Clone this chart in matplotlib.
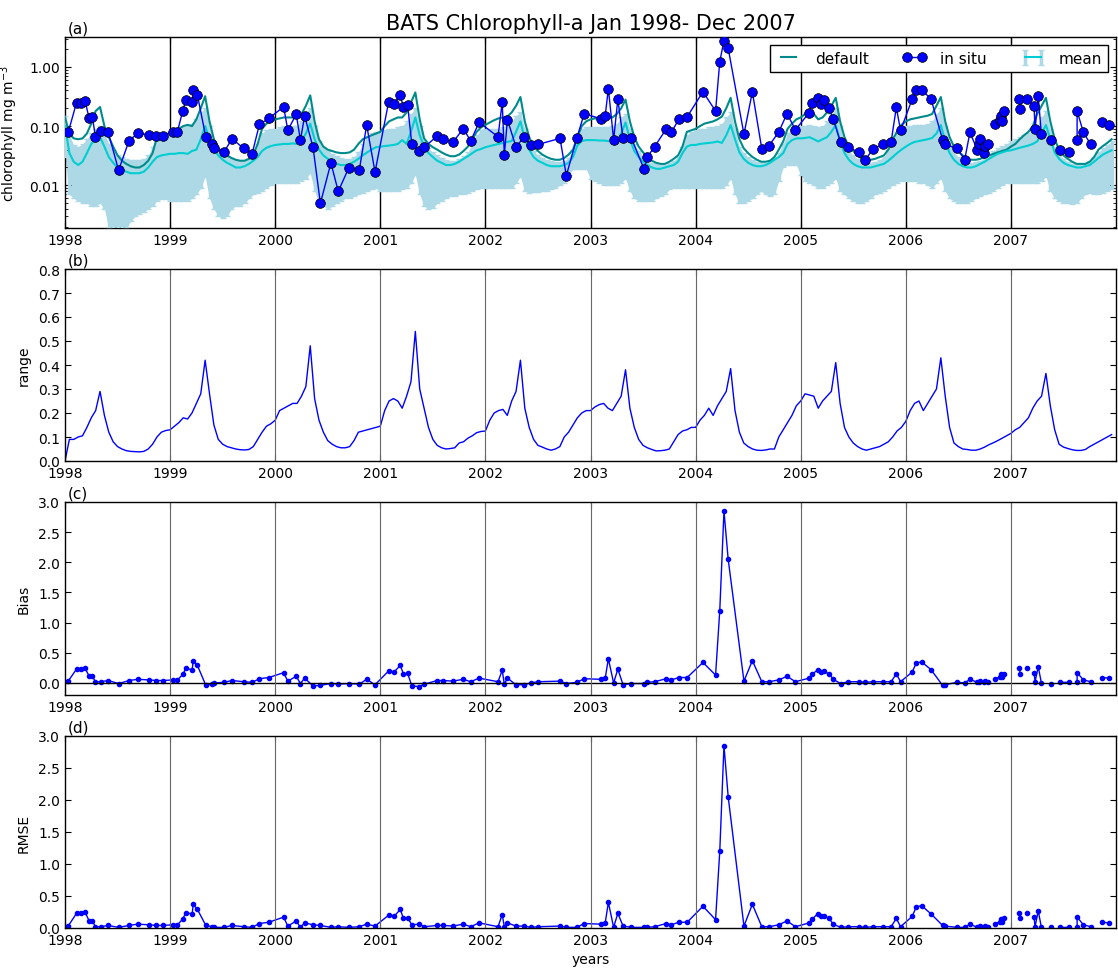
import numpy as np
import matplotlib
matplotlib.use('Agg')
import matplotlib.pyplot as plt
from matplotlib.ticker import FormatStrFormatter, MultipleLocator

years = list(range(1998, 2008))

# model output, 24 samples per year (semi-monthly)
default_chl = [
    [0.14, 0.075, 0.062, 0.06, 0.062, 0.075, 0.11, 0.18, 0.21, 0.1, 0.065, 0.045, 0.032, 0.026, 0.023, 0.021, 0.02, 0.02, 0.022, 0.026, 0.035, 0.065, 0.07, 0.072],
    [0.075, 0.08, 0.09, 0.1, 0.105, 0.1, 0.13, 0.2, 0.32, 0.12, 0.06, 0.042, 0.036, 0.032, 0.029, 0.027, 0.026, 0.026, 0.028, 0.033, 0.05, 0.09, 0.11, 0.12],
    [0.13, 0.135, 0.14, 0.14, 0.14, 0.145, 0.16, 0.22, 0.33, 0.12, 0.06, 0.045, 0.04, 0.038, 0.036, 0.035, 0.035, 0.036, 0.04, 0.05, 0.06, 0.065, 0.07, 0.075],
    [0.08, 0.1, 0.12, 0.13, 0.14, 0.14, 0.17, 0.25, 0.37, 0.13, 0.062, 0.05, 0.044, 0.04, 0.036, 0.033, 0.031, 0.031, 0.033, 0.038, 0.045, 0.06, 0.08, 0.095],
    [0.105, 0.115, 0.126, 0.135, 0.14, 0.145, 0.17, 0.22, 0.31, 0.12, 0.065, 0.045, 0.038, 0.033, 0.03, 0.028, 0.027, 0.027, 0.029, 0.033, 0.04, 0.065, 0.1, 0.12],
    [0.13, 0.135, 0.135, 0.135, 0.135, 0.14, 0.16, 0.2, 0.28, 0.12, 0.065, 0.045, 0.036, 0.03, 0.026, 0.024, 0.023, 0.023, 0.025, 0.028, 0.032, 0.045, 0.08, 0.085],
    [0.09, 0.1, 0.11, 0.115, 0.12, 0.13, 0.145, 0.2, 0.3, 0.12, 0.06, 0.042, 0.035, 0.03, 0.027, 0.025, 0.025, 0.026, 0.03, 0.04, 0.055, 0.09, 0.11, 0.13],
    [0.14, 0.16, 0.175, 0.16, 0.13, 0.14, 0.17, 0.22, 0.3, 0.12, 0.065, 0.045, 0.038, 0.032, 0.028, 0.026, 0.027, 0.028, 0.03, 0.032, 0.04, 0.06, 0.08, 0.105],
    [0.12, 0.13, 0.135, 0.14, 0.145, 0.15, 0.16, 0.22, 0.31, 0.12, 0.065, 0.045, 0.037, 0.032, 0.028, 0.027, 0.027, 0.028, 0.03, 0.032, 0.034, 0.036, 0.038, 0.04],
    [0.045, 0.05, 0.06, 0.07, 0.08, 0.1, 0.16, 0.22, 0.3, 0.12, 0.06, 0.04, 0.032, 0.028, 0.025, 0.023, 0.023, 0.023, 0.025, 0.03, 0.04, 0.046, 0.052, 0.06],
]
mean_chl = [
    [0.1, 0.035, 0.025, 0.022, 0.025, 0.035, 0.05, 0.06, 0.065, 0.045, 0.03, 0.024, 0.02, 0.018, 0.017, 0.016, 0.016, 0.016, 0.017, 0.02, 0.025, 0.03, 0.032, 0.033],
    [0.034, 0.034, 0.035, 0.035, 0.034, 0.038, 0.04, 0.06, 0.1, 0.06, 0.04, 0.032, 0.027, 0.024, 0.022, 0.02, 0.02, 0.021, 0.023, 0.026, 0.03, 0.038, 0.043, 0.046],
    [0.048, 0.049, 0.05, 0.05, 0.051, 0.05, 0.055, 0.075, 0.11, 0.06, 0.04, 0.032, 0.028, 0.025, 0.023, 0.022, 0.022, 0.023, 0.025, 0.028, 0.032, 0.036, 0.04, 0.044],
    [0.045, 0.046, 0.047, 0.048, 0.05, 0.058, 0.05, 0.08, 0.14, 0.07, 0.045, 0.035, 0.03, 0.026, 0.024, 0.022, 0.022, 0.023, 0.025, 0.028, 0.031, 0.035, 0.039, 0.041],
    [0.044, 0.046, 0.048, 0.05, 0.052, 0.054, 0.056, 0.08, 0.12, 0.06, 0.04, 0.03, 0.026, 0.024, 0.022, 0.021, 0.021, 0.021, 0.022, 0.024, 0.03, 0.047, 0.056, 0.058],
    [0.058, 0.058, 0.057, 0.057, 0.056, 0.055, 0.052, 0.075, 0.115, 0.06, 0.038, 0.03, 0.025, 0.022, 0.02, 0.019, 0.019, 0.02, 0.021, 0.022, 0.025, 0.035, 0.045, 0.048],
    [0.048, 0.05, 0.051, 0.052, 0.053, 0.055, 0.052, 0.07, 0.104, 0.06, 0.036, 0.028, 0.024, 0.022, 0.021, 0.021, 0.022, 0.024, 0.027, 0.03, 0.035, 0.05, 0.058, 0.062],
    [0.062, 0.063, 0.065, 0.06, 0.055, 0.06, 0.065, 0.08, 0.104, 0.055, 0.035, 0.027, 0.023, 0.021, 0.02, 0.02, 0.02, 0.021, 0.022, 0.023, 0.026, 0.03, 0.035, 0.04],
    [0.045, 0.05, 0.054, 0.056, 0.058, 0.06, 0.063, 0.075, 0.104, 0.055, 0.035, 0.027, 0.023, 0.021, 0.02, 0.02, 0.021, 0.023, 0.025, 0.028, 0.031, 0.034, 0.036, 0.038],
    [0.039, 0.041, 0.043, 0.045, 0.047, 0.05, 0.055, 0.075, 0.104, 0.06, 0.036, 0.028, 0.024, 0.022, 0.021, 0.02, 0.02, 0.021, 0.022, 0.025, 0.029, 0.033, 0.036, 0.039],
]
band_high = [
    [0.15, 0.07, 0.048, 0.045, 0.05, 0.06, 0.075, 0.09, 0.1, 0.075, 0.05, 0.04, 0.033, 0.03, 0.028, 0.027, 0.027, 0.027, 0.028, 0.032, 0.045, 0.06, 0.065, 0.07],
    [0.08, 0.085, 0.09, 0.095, 0.1, 0.11, 0.13, 0.17, 0.2, 0.1, 0.05, 0.04, 0.034, 0.031, 0.029, 0.027, 0.026, 0.026, 0.028, 0.032, 0.05, 0.075, 0.085, 0.09],
    [0.09, 0.095, 0.1, 0.1, 0.1, 0.1, 0.12, 0.17, 0.2, 0.1, 0.055, 0.045, 0.038, 0.034, 0.031, 0.029, 0.028, 0.028, 0.03, 0.036, 0.05, 0.065, 0.075, 0.08],
    [0.08, 0.085, 0.09, 0.09, 0.095, 0.1, 0.12, 0.16, 0.2, 0.1, 0.055, 0.042, 0.036, 0.032, 0.029, 0.027, 0.026, 0.026, 0.028, 0.031, 0.036, 0.05, 0.07, 0.085],
    [0.09, 0.09, 0.09, 0.09, 0.095, 0.1, 0.12, 0.15, 0.17, 0.09, 0.05, 0.038, 0.032, 0.029, 0.027, 0.026, 0.025, 0.025, 0.026, 0.029, 0.04, 0.07, 0.09, 0.095],
    [0.095, 0.095, 0.095, 0.095, 0.095, 0.1, 0.11, 0.14, 0.16, 0.09, 0.05, 0.038, 0.03, 0.026, 0.024, 0.023, 0.022, 0.022, 0.024, 0.026, 0.03, 0.045, 0.07, 0.08],
    [0.085, 0.09, 0.09, 0.095, 0.095, 0.1, 0.11, 0.14, 0.17, 0.09, 0.045, 0.035, 0.03, 0.027, 0.025, 0.024, 0.024, 0.025, 0.028, 0.035, 0.05, 0.075, 0.09, 0.095],
    [0.1, 0.1, 0.105, 0.1, 0.095, 0.1, 0.12, 0.16, 0.2, 0.1, 0.05, 0.038, 0.032, 0.028, 0.025, 0.024, 0.024, 0.025, 0.027, 0.03, 0.04, 0.06, 0.08, 0.095],
    [0.1, 0.1, 0.105, 0.105, 0.105, 0.11, 0.12, 0.16, 0.2, 0.1, 0.048, 0.036, 0.03, 0.027, 0.025, 0.024, 0.025, 0.026, 0.029, 0.033, 0.038, 0.042, 0.046, 0.05],
    [0.055, 0.06, 0.065, 0.07, 0.075, 0.085, 0.1, 0.14, 0.18, 0.09, 0.045, 0.034, 0.028, 0.025, 0.023, 0.022, 0.022, 0.023, 0.026, 0.03, 0.036, 0.042, 0.048, 0.055],
]
band_low = [
    [0.03, 0.007, 0.006, 0.0055, 0.005, 0.005, 0.0045, 0.0045, 0.005, 0.004, 0.0018, 0.0015, 0.0015, 0.0016, 0.0018, 0.0025, 0.003, 0.0033, 0.0036, 0.004, 0.0045, 0.0055, 0.0058, 0.0058],
    [0.0055, 0.0055, 0.0055, 0.0055, 0.0055, 0.006, 0.007, 0.009, 0.014, 0.006, 0.004, 0.003, 0.0028, 0.003, 0.004, 0.0045, 0.0045, 0.005, 0.006, 0.007, 0.0075, 0.008, 0.009, 0.01],
    [0.011, 0.011, 0.011, 0.011, 0.011, 0.011, 0.012, 0.013, 0.016, 0.008, 0.005, 0.0045, 0.004, 0.0045, 0.005, 0.0055, 0.006, 0.006, 0.0065, 0.007, 0.0075, 0.008, 0.0085, 0.009],
    [0.008, 0.008, 0.008, 0.008, 0.008, 0.0085, 0.009, 0.011, 0.015, 0.007, 0.0045, 0.004, 0.0042, 0.005, 0.0055, 0.006, 0.0065, 0.0065, 0.007, 0.0072, 0.0075, 0.008, 0.0085, 0.009],
    [0.009, 0.009, 0.009, 0.009, 0.009, 0.009, 0.009, 0.011, 0.014, 0.008, 0.0075, 0.0077, 0.0078, 0.008, 0.008, 0.0085, 0.009, 0.01, 0.011, 0.015, 0.019, 0.019, 0.019, 0.019],
    [0.013, 0.012, 0.011, 0.01, 0.01, 0.01, 0.01, 0.011, 0.013, 0.008, 0.006, 0.0055, 0.0055, 0.0055, 0.0055, 0.006, 0.0065, 0.007, 0.0085, 0.009, 0.009, 0.009, 0.009, 0.009],
    [0.009, 0.009, 0.009, 0.009, 0.009, 0.009, 0.009, 0.01, 0.013, 0.007, 0.005, 0.005, 0.0055, 0.006, 0.007, 0.008, 0.007, 0.0065, 0.007, 0.012, 0.02, 0.022, 0.022, 0.022],
    [0.015, 0.012, 0.011, 0.01, 0.009, 0.009, 0.01, 0.011, 0.013, 0.008, 0.007, 0.006, 0.0055, 0.005, 0.005, 0.0055, 0.006, 0.007, 0.0075, 0.008, 0.009, 0.01, 0.011, 0.012],
    [0.012, 0.012, 0.012, 0.011, 0.011, 0.01, 0.009, 0.011, 0.013, 0.008, 0.006, 0.0055, 0.005, 0.005, 0.005, 0.0055, 0.006, 0.0065, 0.007, 0.0075, 0.008, 0.009, 0.01, 0.011],
    [0.011, 0.011, 0.011, 0.011, 0.011, 0.011, 0.011, 0.012, 0.014, 0.008, 0.006, 0.0055, 0.005, 0.005, 0.0048, 0.005, 0.006, 0.007, 0.0075, 0.007, 0.007, 0.0075, 0.008, 0.0085],
]
range_chl = [
    [0.0, 0.09, 0.09, 0.1, 0.105, 0.14, 0.18, 0.21, 0.29, 0.19, 0.12, 0.08, 0.06, 0.05, 0.043, 0.04, 0.039, 0.038, 0.04, 0.05, 0.07, 0.1, 0.12, 0.127],
    [0.13, 0.145, 0.16, 0.18, 0.175, 0.2, 0.24, 0.28, 0.42, 0.28, 0.15, 0.09, 0.07, 0.06, 0.055, 0.05, 0.047, 0.046, 0.048, 0.06, 0.09, 0.12, 0.145, 0.155],
    [0.17, 0.21, 0.22, 0.23, 0.24, 0.24, 0.27, 0.31, 0.48, 0.26, 0.17, 0.12, 0.085, 0.07, 0.06, 0.055, 0.055, 0.06, 0.085, 0.12, 0.125, 0.13, 0.135, 0.14],
    [0.145, 0.21, 0.25, 0.26, 0.25, 0.22, 0.27, 0.33, 0.54, 0.3, 0.22, 0.14, 0.09, 0.065, 0.055, 0.05, 0.052, 0.055, 0.075, 0.08, 0.095, 0.105, 0.118, 0.123],
    [0.125, 0.17, 0.2, 0.21, 0.215, 0.19, 0.25, 0.29, 0.42, 0.22, 0.14, 0.09, 0.065, 0.058, 0.05, 0.045, 0.05, 0.06, 0.1, 0.12, 0.15, 0.18, 0.2, 0.21],
    [0.21, 0.225, 0.235, 0.24, 0.22, 0.21, 0.24, 0.27, 0.38, 0.22, 0.14, 0.09, 0.065, 0.055, 0.048, 0.042, 0.043, 0.045, 0.05, 0.08, 0.11, 0.125, 0.13, 0.14],
    [0.14, 0.17, 0.19, 0.22, 0.19, 0.23, 0.26, 0.29, 0.385, 0.21, 0.12, 0.075, 0.06, 0.05, 0.045, 0.044, 0.046, 0.05, 0.05, 0.1, 0.13, 0.16, 0.19, 0.23],
    [0.25, 0.28, 0.275, 0.27, 0.22, 0.25, 0.27, 0.29, 0.41, 0.24, 0.14, 0.1, 0.075, 0.06, 0.05, 0.045, 0.05, 0.055, 0.06, 0.07, 0.08, 0.1, 0.125, 0.14],
    [0.165, 0.21, 0.24, 0.25, 0.21, 0.24, 0.27, 0.3, 0.43, 0.27, 0.14, 0.075, 0.06, 0.05, 0.048, 0.045, 0.045, 0.05, 0.058, 0.068, 0.076, 0.085, 0.095, 0.105],
    [0.115, 0.13, 0.14, 0.16, 0.18, 0.22, 0.25, 0.27, 0.365, 0.23, 0.13, 0.07, 0.058, 0.052, 0.047, 0.044, 0.044, 0.048, 0.06, 0.07, 0.08, 0.09, 0.1, 0.11],
]

# in situ samples (decimal year), nan = break in the line
nan = np.nan
insitu_t = [1998.03, 1998.11, 1998.15, 1998.19, 1998.23, 1998.26, 1998.29, 1998.34, 1998.41, 1998.51,
            1998.61, 1998.69, 1998.80, 1998.87, 1998.93, 1999.03, 1999.07, 1999.12, 1999.15, 1999.21,
            1999.22, 1999.26, 1999.34, 1999.40, 1999.42, 1999.51, 1999.59, 1999.70, 1999.78, 1999.85,
            1999.94, 2000.08, 2000.12, 2000.20, 2000.24, 2000.28, 2000.36, 2000.43, 2000.53, 2000.60,
            2000.70, 2000.80, 2000.87, 2000.95, 2001.08, 2001.13, 2001.19, 2001.22, 2001.26, 2001.30,
            2001.37, 2001.42, 2001.54, 2001.60, 2001.69, 2001.79, 2001.86, 2001.94, 2002.12, 2002.16,
            2002.18, 2002.21, 2002.29, 2002.37, 2002.43, 2002.50, 2002.71, 2002.77, 2002.87, 2002.94,
            2003.10, 2003.14, 2003.17, 2003.22, 2003.26, 2003.31, 2003.39, 2003.51, 2003.54, 2003.61,
            2003.72, 2003.77, 2003.84, 2003.92, 2004.07, 2004.19, 2004.23, 2004.27, 2004.31, 2004.46,
            2004.54, 2004.63, 2004.70, 2004.79, 2004.87, 2004.95, 2005.08, 2005.11, 2005.16, 2005.19,
            2005.22, 2005.27, 2005.31, 2005.38, 2005.45, 2005.55, 2005.61, 2005.69, 2005.78, 2005.86,
            2005.91, 2005.95, 2006.06, 2006.10, 2006.15, 2006.24, 2006.35, 2006.37, 2006.49, 2006.56,
            2006.61, 2006.68, 2006.70, 2006.71, 2006.74, 2006.75, 2006.78, nan, 2006.85, 2006.90,
            2006.91, 2006.92, 2006.93, nan, 2007.08, 2007.09, nan, 2007.15, nan, 2007.22,
            2007.23, 2007.26, 2007.29, nan, 2007.38, nan, 2007.47, 2007.55, nan, 2007.63,
            2007.63, 2007.69, 2007.76, nan, 2007.87, 2007.93]
insitu_chl = [0.078, 0.25, 0.25, 0.27, 0.135, 0.144, 0.066, 0.083, 0.080, 0.018,
              0.057, 0.075, 0.072, 0.068, 0.069, 0.081, 0.081, 0.18, 0.276, 0.258,
              0.40, 0.335, 0.065, 0.0495, 0.042, 0.036, 0.061, 0.042, 0.034, 0.107,
              0.135, 0.212, 0.0855, 0.158, 0.058, 0.148, 0.044, 0.00495, 0.0239, 0.0079,
              0.0197, 0.018, 0.104, 0.0168, 0.26, 0.24, 0.335, 0.207, 0.226, 0.049,
              0.038, 0.044, 0.068, 0.061, 0.053, 0.091, 0.056, 0.116, 0.066, 0.254,
              0.033, 0.128, 0.045, 0.065, 0.048, 0.049, 0.062, 0.0146, 0.063, 0.162,
              0.133, 0.15, 0.43, 0.059, 0.283, 0.062, 0.062, 0.0187, 0.030, 0.045,
              0.089, 0.079, 0.13, 0.144, 0.38, 0.18, 1.23, 2.79, 2.07, 0.073,
              0.38, 0.041, 0.047, 0.079, 0.162, 0.0867, 0.168, 0.245, 0.30, 0.24,
              0.272, 0.204, 0.13, 0.053, 0.045, 0.036, 0.0265, 0.041, 0.0495, 0.054,
              0.207, 0.0845, 0.283, 0.41, 0.41, 0.287, 0.059, 0.049, 0.042, 0.027,
              0.078, 0.040, 0.05, 0.06, 0.035, 0.046, 0.05, nan, 0.109, 0.126,
              0.15, 0.12, 0.18, nan, 0.29, 0.195, nan, 0.29, nan, 0.215,
              0.089, 0.32, 0.073, nan, 0.058, nan, 0.040, 0.037, nan, 0.058,
              0.18, 0.078, 0.049, nan, 0.116, 0.106]
bias = [0.03, 0.23, 0.23, 0.25, 0.11, 0.11, 0.02, 0.02, 0.04, -0.01,
        0.04, 0.06, 0.05, 0.04, 0.04, 0.05, 0.05, 0.14, 0.24, 0.22,
        0.37, 0.29, -0.04, -0.02, 0.0, 0.01, 0.04, 0.02, 0.01, 0.07,
        0.09, 0.17, 0.03, 0.11, -0.01, 0.08, -0.05, -0.04, -0.01, -0.02,
        -0.01, -0.02, 0.06, -0.03, 0.20, 0.18, 0.29, 0.15, 0.16, -0.05,
        -0.06, -0.02, 0.04, 0.04, 0.03, 0.06, 0.02, 0.08, 0.02, 0.21,
        -0.02, 0.08, -0.03, -0.03, 0.0, 0.02, 0.03, -0.01, 0.01, 0.07,
        0.06, 0.08, 0.40, 0.0, 0.23, -0.03, -0.01, -0.01, 0.01, 0.02,
        0.07, 0.05, 0.09, 0.09, 0.34, 0.13, 1.20, 2.85, 2.05, 0.03,
        0.37, 0.02, 0.02, 0.05, 0.11, 0.02, 0.08, 0.14, 0.22, 0.18,
        0.19, 0.15, 0.06, -0.01, 0.02, 0.02, 0.01, 0.02, 0.02, 0.02,
        0.15, 0.02, 0.18, 0.33, 0.35, 0.22, -0.04, -0.03, 0.01, 0.0,
        0.06, 0.01, 0.02, 0.03, 0.01, 0.03, 0.02, nan, 0.07, 0.10,
        0.14, 0.10, 0.15, nan, 0.24, 0.15, nan, 0.24, nan, 0.17,
        0.02, 0.27, 0.0, nan, -0.02, nan, 0.01, 0.01, nan, 0.02,
        0.17, 0.05, 0.02, nan, 0.09, 0.08]
rmse = [0.03, 0.23, 0.23, 0.25, 0.11, 0.11, 0.02, 0.02, 0.04, 0.01,
        0.04, 0.06, 0.05, 0.04, 0.04, 0.05, 0.05, 0.14, 0.24, 0.22,
        0.37, 0.29, 0.04, 0.02, 0.01, 0.01, 0.04, 0.02, 0.01, 0.07,
        0.09, 0.17, 0.03, 0.11, 0.01, 0.08, 0.05, 0.04, 0.01, 0.02,
        0.01, 0.02, 0.06, 0.03, 0.20, 0.18, 0.29, 0.15, 0.16, 0.05,
        0.06, 0.02, 0.04, 0.04, 0.03, 0.06, 0.02, 0.08, 0.02, 0.21,
        0.02, 0.08, 0.03, 0.03, 0.01, 0.02, 0.03, 0.01, 0.01, 0.07,
        0.06, 0.08, 0.40, 0.01, 0.23, 0.03, 0.01, 0.01, 0.01, 0.02,
        0.07, 0.05, 0.09, 0.09, 0.34, 0.13, 1.20, 2.85, 2.05, 0.03,
        0.37, 0.02, 0.02, 0.05, 0.11, 0.02, 0.08, 0.14, 0.22, 0.18,
        0.19, 0.15, 0.06, 0.01, 0.02, 0.02, 0.01, 0.02, 0.02, 0.02,
        0.15, 0.02, 0.18, 0.33, 0.35, 0.22, 0.04, 0.03, 0.01, 0.01,
        0.06, 0.01, 0.02, 0.03, 0.01, 0.03, 0.02, nan, 0.07, 0.10,
        0.14, 0.10, 0.15, nan, 0.24, 0.15, nan, 0.24, nan, 0.17,
        0.02, 0.27, 0.01, nan, 0.02, nan, 0.01, 0.01, nan, 0.02,
        0.17, 0.05, 0.02, nan, 0.09, 0.08]

t_model = years[0] + np.arange(24 * len(years)) / 24.0
default_chl = np.ravel(default_chl)
mean_chl = np.ravel(mean_chl)
band_low = np.ravel(band_low)
band_high = np.ravel(band_high)
range_chl = np.ravel(range_chl)
insitu_t = np.array(insitu_t)

plt.rcParams['font.family'] = 'DejaVu Sans'
plt.rcParams['font.size'] = 10
plt.rcParams['xtick.direction'] = 'in'
plt.rcParams['ytick.direction'] = 'in'
plt.rcParams['xtick.top'] = True
plt.rcParams['ytick.right'] = True
plt.rcParams['xtick.major.size'] = 4
plt.rcParams['ytick.major.size'] = 4
plt.rcParams['ytick.minor.size'] = 2
plt.rcParams['axes.linewidth'] = 1.0

fig = plt.figure(figsize=(11.18, 9.7), dpi=100)
W, H = 1118.0, 970.0
left, right = 65, 1116
boxes = [(38, 229), (270, 462), (503, 696), (737, 929)]
axs = [fig.add_axes([left / W, 1 - b / H, (right - left) / W, (b - t) / H]) for t, b in boxes]

# (a) chlorophyll
ax = axs[0]
ax.fill_between(t_model, band_low, band_high, color='lightblue', lw=0, zorder=1)
ax.errorbar(t_model, mean_chl, yerr=[mean_chl - band_low, band_high - mean_chl],
            color='darkturquoise', ecolor='lightblue', elinewidth=2.5, capsize=2,
            lw=1.5, label='mean', zorder=3)
ax.plot(t_model, default_chl, color='darkcyan', lw=1.5, label='default', zorder=3)
ax.plot(insitu_t, insitu_chl, 'o-', color='b', ms=7, mec='k', mew=0.5, lw=1,
        label='in situ', zorder=4)
ax.set_yscale('log')
ax.set_ylim(0.0019, 3.2)
ax.set_yticks([0.01, 0.1, 1.0])
ax.yaxis.set_major_formatter(FormatStrFormatter('%.2f'))
ax.set_ylabel('chlorophyll mg m$^{-3}$')
ax.yaxis.set_label_coords(-0.043, 0.5)
ax.set_title('BATS Chlorophyll-a Jan 1998- Dec 2007', fontsize=15)
h, l = ax.get_legend_handles_labels()
order = [l.index('default'), l.index('in situ'), l.index('mean')]
ax.legend([h[i] for i in order], [l[i] for i in order], loc='upper right', ncol=3,
          fontsize=11, numpoints=2, fancybox=False, framealpha=1, edgecolor='k',
          borderaxespad=0.5, handlelength=1.6, handletextpad=0.9, columnspacing=2.2)

# (b) range
axs[1].plot(t_model, range_chl, color='b', lw=1)
axs[1].set_ylim(0, 0.8)
axs[1].yaxis.set_major_locator(MultipleLocator(0.1))
axs[1].set_ylabel('range')

# (c) bias
axs[2].plot(insitu_t, bias, '.-', color='b', ms=6, lw=1)
axs[2].axhline(0, color='k', lw=1)
axs[2].set_ylim(-0.2, 3.0)
axs[2].yaxis.set_major_locator(MultipleLocator(0.5))
axs[2].set_ylabel('Bias')

# (d) rmse
axs[3].plot(insitu_t, rmse, '.-', color='b', ms=6, lw=1)
axs[3].set_ylim(0, 3.0)
axs[3].yaxis.set_major_locator(MultipleLocator(0.5))
axs[3].set_ylabel('RMSE')
axs[3].set_xlabel('years')

for ax in axs[1:]:
    ax.yaxis.set_major_formatter(FormatStrFormatter('%.1f'))
    ax.yaxis.set_label_coords(-0.033, 0.5)

for i, ax in enumerate(axs):
    for yr in years[1:]:
        ax.axvline(yr, color='k' if i == 0 else '0.4', lw=1 if i == 0 else 0.8, zorder=2.5)
    ax.set_xlim(1998, 2008)
    ax.set_xticks(years)
    ax.set_xticklabels([str(y) for y in years])
    ax.text(0.003, 1.01, '(%s)' % 'abcd'[i], transform=ax.transAxes, ha='left', va='bottom',
            fontsize=11)

fig.savefig('out.png', dpi=100)
